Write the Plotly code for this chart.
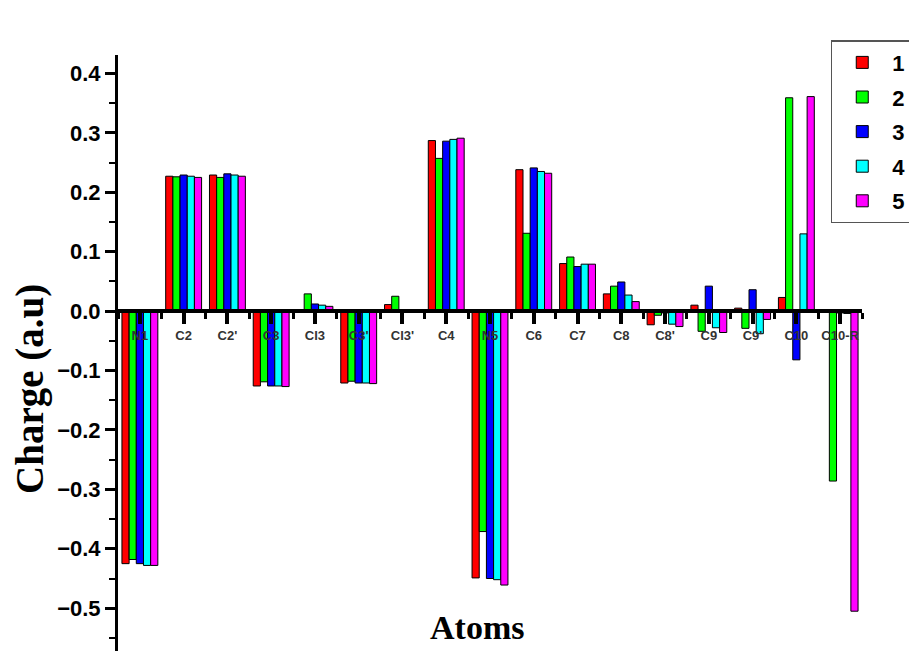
import plotly.graph_objects as go

atoms = ["N1", "C2", "C2'", "C3", "Cl3", "C3'", "Cl3'", "C4", "N5", "C6",
         "C7", "C8", "C8'", "C9", "C9'", "C10", "C10-R"]

s1 = [-0.425, 0.227, 0.229, -0.126, 0.000, -0.121, 0.011, 0.287, -0.449, 0.238,
      0.080, 0.029, -0.023, 0.010, 0.005, 0.023, 0.000]
s2 = [-0.418, 0.226, 0.225, -0.119, 0.029, -0.118, 0.025, 0.257, -0.371, 0.131,
      0.091, 0.042, -0.007, -0.034, -0.029, 0.359, -0.286]
s3 = [-0.425, 0.229, 0.231, -0.126, 0.012, -0.121, 0.000, 0.286, -0.450, 0.241,
      0.075, 0.049, -0.003, 0.042, 0.036, -0.082, -0.003]
s4 = [-0.428, 0.227, 0.229, -0.126, 0.010, -0.121, 0.000, 0.289, -0.452, 0.235,
      0.079, 0.027, -0.022, -0.028, -0.038, 0.130, -0.004]
s5 = [-0.428, 0.225, 0.227, -0.127, 0.008, -0.122, 0.000, 0.291, -0.461, 0.232,
      0.079, 0.016, -0.026, -0.036, -0.014, 0.361, -0.505]

series_names = ["1", "2", "3", "4", "5"]
series_values = [s1, s2, s3, s4, s5]
colors = ["#FF0000", "#00FF00", "#0000FF", "#00FFFF", "#FF00FF"]

y_min, y_max = -0.572, 0.431
x_pos = list(range(len(atoms)))
minor_pos = [i + 0.5 for i in range(-1, len(atoms))]

fig = go.Figure()
for i, (name, vals, col) in enumerate(zip(series_names, series_values, colors)):
    fig.add_trace(go.Bar(
        x=x_pos, y=vals, name=name, legendgroup=name,
        marker=dict(color=col, line=dict(color="black", width=1)),
    ))

zero_pos = (0 - y_min) / (y_max - y_min)

fig.update_layout(
    width=909, height=643,
    paper_bgcolor="white", plot_bgcolor="white",
    margin=dict(l=110, r=55, t=47, b=0, autoexpand=False),
    barmode="group", bargap=0.18, bargroupgap=0,
    showlegend=True,
    legend=dict(
        x=0.958, y=1.025, xanchor="left", yanchor="top",
        bgcolor="white", bordercolor="#555555", borderwidth=1.5,
        font=dict(family="Arial", size=22, color="black", weight="bold"),
        itemwidth=50, tracegroupgap=3,
    ),
    xaxis=dict(
        range=[-0.5, 16.5], tickmode="array", tickvals=x_pos, ticktext=atoms,
        anchor="free", position=zero_pos,
        showline=True, linecolor="black", linewidth=4,
        ticks="outside", ticklen=11, tickwidth=4, tickcolor="black",
        minor=dict(tickmode="array", tickvals=minor_pos, ticklen=6, tickwidth=3,
                   ticks="outside", tickcolor="black"),
        tickfont=dict(family="Arial", size=13, color="#333333", weight="bold"),
        showgrid=False, zeroline=False,
    ),
    yaxis=dict(
        range=[y_min, y_max], tick0=0, dtick=0.1, tickformat=".1f",
        showline=True, linecolor="black", linewidth=3,
        ticks="outside", ticklen=10, tickwidth=3, tickcolor="black",
        minor=dict(dtick=0.05, ticklen=6, tickwidth=2, ticks="outside", tickcolor="black"),
        tickfont=dict(family="Arial", size=22, color="black", weight="bold"),
        showgrid=False, zeroline=False,
    ),
    annotations=[
        dict(text="Atoms", xref="paper", yref="paper", x=0.4825, y=0.040,
             xanchor="center", yanchor="middle", showarrow=False,
             font=dict(family="Liberation Serif", size=34, color="black", weight="bold")),
        dict(text="Charge (a.u)", xref="paper", yref="paper", x=-0.118, y=0.440,
             xanchor="center", yanchor="middle", showarrow=False, textangle=-90,
             font=dict(family="Liberation Serif", size=39, color="black", weight="bold")),
    ],
)

fig.write_html("out.html")
